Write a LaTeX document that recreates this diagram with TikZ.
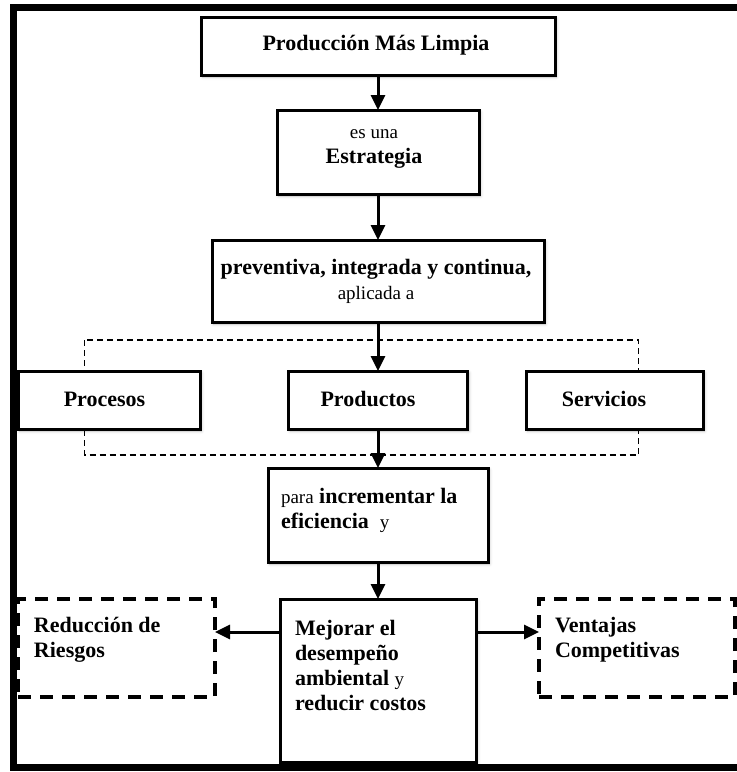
\documentclass[tikz,border=0pt]{standalone}
\usepackage{fontspec}
\setmainfont{Liberation Serif}
\usetikzlibrary{arrows.meta,shadows.blur}

\begin{document}
\begin{tikzpicture}[x=1pt,y=-1pt,
  every node/.style={inner sep=0pt, outer sep=0pt},
  bigfont/.style={font=\fontsize{22}{25}\selectfont\bfseries},
  box/.style={draw=black, line width=3pt, fill=white,
    blur shadow={shadow xshift=1.5pt, shadow yshift=-2pt,
      shadow opacity=25, shadow blur radius=3pt}},
  dbox/.style={draw=black, line width=3.5pt, fill=white,
    dash pattern=on 13pt off 9pt},
  txt/.style={bigfont, align=center},
  ltxt/.style={bigfont, align=left, anchor=west},
  flow/.style={line width=3pt, -{Triangle[length=15pt, width=14pt]}},
]
\useasboundingbox (0,0) rectangle (737,772);

% grouping frame around the three targets
\draw[line width=1.4pt, dash pattern=on 6pt off 4pt] (84.5,340) rectangle (638.5,455);

% main chain
\node[box, minimum width=354pt, minimum height=58pt] (pml) at (378,46) {};
\node[txt] (pmlt) at (376,45) {Producción Más Limpia};

\node[box, minimum width=202pt, minimum height=84pt] (est) at (378,152) {};
\node[txt] (estt) at (374,149) {{\fontsize{19}{24}\selectfont\mdseries es una}\\Estrategia};

\node[box, minimum width=332pt, minimum height=82pt] (pre) at (378,281) {};
\node[txt] (pret) at (376,281.5) {preventiva, integrada y continua,\\{\fontsize{19}{24}\selectfont\mdseries aplicada a}};

\node[box, minimum width=182pt, minimum height=58pt] (proc) at (109,400) {};
\node[txt] (proct) at (104.5,399) {Procesos};
\node[box, minimum width=179pt, minimum height=58pt] (prod) at (378,400) {};
\node[txt] (prodt) at (368,399) {Productos};
\node[box, minimum width=177pt, minimum height=58pt] (serv) at (614.5,400) {};
\node[txt] (servt) at (604,399) {Servicios};

\node[box, minimum width=220pt, minimum height=94pt] (inc) at (378,515) {};
\node[ltxt] (inct) at (281,510) {{\fontsize{19}{25}\selectfont\mdseries para} incrementar la\\eficiencia\ \ {\fontsize{19}{25}\selectfont\mdseries y}};

\node[box, minimum width=196pt, minimum height=163pt] (mej) at (378,680.5) {};
\node[ltxt] (mejt) at (295,665.5) {Mejorar el\\desempeño\\ambiental {\fontsize{19}{25}\selectfont\mdseries y}\\reducir costos};

% outcome boxes
\node[dbox, minimum width=197pt, minimum height=98pt] (rie) at (116.5,648) {};
\node[ltxt] (riet) at (34,639.5) {Reducción de\\Riesgos};
\node[dbox, minimum width=196pt, minimum height=98pt] (ven) at (637,648) {};
\node[ltxt] (vent) at (555,639.5) {Ventajas\\Competitivas};

% connectors
\draw[flow] (pml) -- (est);
\draw[flow] (est) -- (pre);
\draw[flow] (pre) -- (prod);
\draw[flow] (prod) -- (inc);
\draw[flow] (inc) -- (mej);
\coordinate (side) at (0,632);
\draw[flow] (mej.west |- side) -- (rie.east |- side);
\draw[flow] (mej.east |- side) -- (ven.west |- side);

% outer frame
\draw[line width=7pt, line join=miter] (740,7.5) -- (13.5,7.5) -- (13.5,767.5) -- (740,767.5);
\end{tikzpicture}
\end{document}
